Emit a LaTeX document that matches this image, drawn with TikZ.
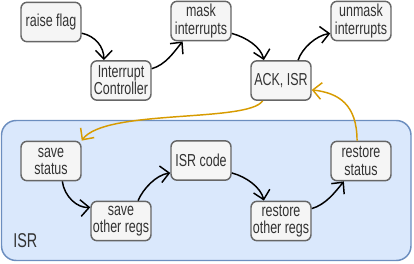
\documentclass[tikz,border=0pt]{standalone}
\usepackage{fontspec}
\setmainfont{Liberation Sans}[FakeStretch=0.72]
\usetikzlibrary{arrows.meta}
\definecolor{boxfill}{HTML}{F5F5F5}
\definecolor{boxline}{HTML}{666666}
\definecolor{boxtext}{HTML}{333333}
\definecolor{isrfill}{HTML}{DAE8FC}
\definecolor{isrline}{HTML}{6C8EBF}
\definecolor{retline}{HTML}{D79B00}
\tikzset{
  stepbox/.style={draw=boxline, fill=boxfill, text=boxtext, line width=1.1pt,
    rounded corners=4.5pt, minimum width=45pt, minimum height=29.5pt,
    inner sep=0pt, align=center, font=\fontsize{13}{12.8}\selectfont},
  flow/.style={draw=black, line width=1.1pt, -{Straight Barb[length=6.5pt,width=12.5pt]}},
  ret/.style={draw=retline, line width=1.1pt, -{Straight Barb[length=6.5pt,width=12.5pt]}}
}
\begin{document}
\begin{tikzpicture}[x=0.75pt,y=0.75pt,yscale=-1,xscale=1]
    \useasboundingbox (0,0) rectangle (414,264);
    %Shape: Rounded Rect [id:isr]
    \draw [draw=isrline, fill=isrfill, line width=1.1pt, rounded corners=11pt] (1.5,120.5) rectangle (411,260.5) ;
    % Text Node
    \node (isrlabel) at (13,248) [anchor=south west, inner sep=0pt, text=boxtext, font=\fontsize{15}{16}\selectfont] {ISR};
    % top row
    \node (raise) at (51,22) [stepbox] {raise flag};
    \node (ctrl) at (121,80.5) [stepbox] {Interrupt\\Controller};
    \node (mask) at (201,21) [stepbox] {mask\\interrupts};
    \node (ack) at (281,80.5) [stepbox] {ACK, ISR};
    \node (unmask) at (361,21) [stepbox] {unmask\\interrupts};
    % inside the ISR box
    \node (save) at (51,161) [stepbox] {save\\status};
    \node (saveregs) at (121,221) [stepbox] {save\\other regs};
    \node (code) at (201,160.5) [stepbox] {ISR code};
    \node (restregs) at (281,221) [stepbox] {restore\\other regs};
    \node (restore) at (361,161) [stepbox] {restore\\status};
    %Curve Lines
    \draw [flow] (raise.-20) .. controls +(14,3) and +(0,-13) .. (ctrl.130) ;
    \draw [flow] (ctrl.21) .. controls +(14,-4) and +(-9,11) .. (mask.-132) ;
    \draw [flow] (mask.-22) .. controls +(15,4) and +(-3,-13) .. (ack.130) ;
    \draw [flow] (ack.50) .. controls +(4,-12) and +(-14,2) .. (unmask.-158) ;
    \draw [flow] (save.-61) .. controls +(2,15) and +(-13,1) .. (saveregs.156) ;
    \draw [flow] (saveregs.50) .. controls +(5,-12) and +(-14,2) .. (code.-158) ;
    \draw [flow] (code.-22) .. controls +(15,4) and +(-3,-13) .. (restregs.130) ;
    \draw [flow] (restregs.22) .. controls +(14,-4) and +(-9,11) .. (restore.-130) ;
    %Curve Lines (return path)
    \draw [ret] (ack.-132) .. controls +(-15,22) and +(23,-32) .. (save.north east) ;
    \draw [ret] (restore.101) .. controls +(0,-36) and +(27,3) .. (ack.-17) ;
\end{tikzpicture}
\end{document}
